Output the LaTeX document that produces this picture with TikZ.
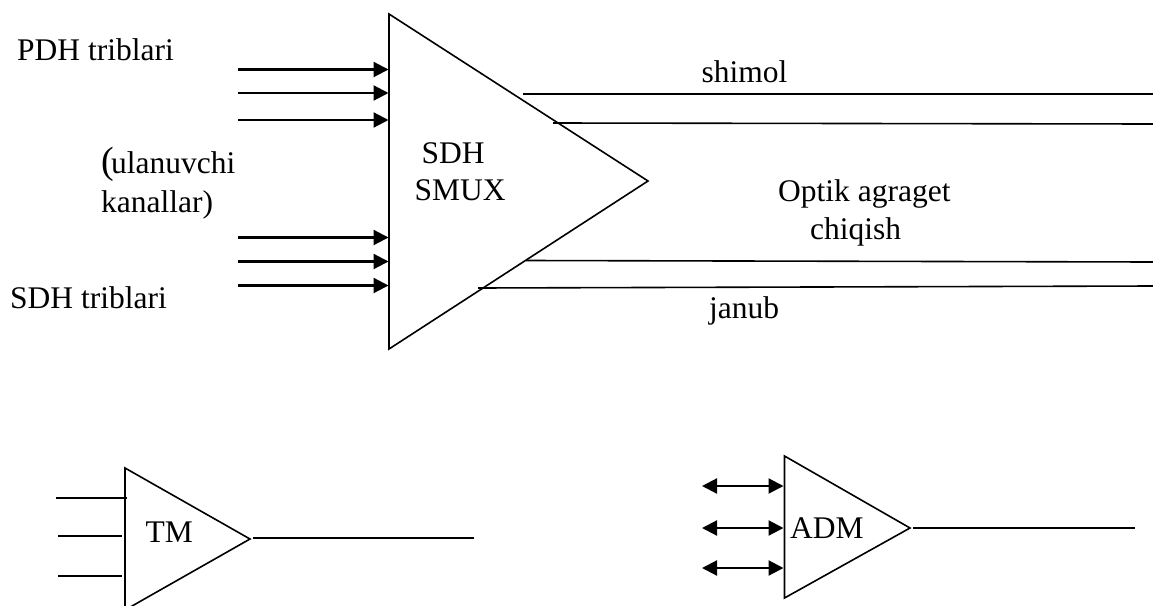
\documentclass[tikz,border=0pt]{standalone}
\usepackage{fontspec}
\setmainfont{Liberation Serif}
\usetikzlibrary{arrows.meta}
\begin{document}
\begin{tikzpicture}[x=1pt,y=-1pt,
 wire/.style={line width=1.6pt,black},
 arr/.style={line width=2.2pt,-{Triangle[length=15pt,width=15pt]}},
 darr/.style={line width=2.2pt,{Triangle[length=15pt,width=15pt]}-{Triangle[length=15pt,width=15pt]}},
 lbl/.style={font=\fontsize{31.5}{36}\selectfont,inner sep=0pt,anchor=base west,align=left}]
\useasboundingbox (0,0) rectangle (1153,605);
\clip (0,0) rectangle (1153,605);
\fill[white] (0,0) rectangle (1153,605);
\coordinate (a1) at (389,14); \coordinate (a2) at (389,349); \coordinate (a3) at (648,181);
\draw[wire] (a1)--(a3)--(a2)--cycle;
\foreach \n/\y in {p1/69.5,p2/93,p3/120,s1/237.5,s2/261.5,s3/285.5}{
 \coordinate (\n a) at (238,\y); \coordinate (\n b) at (388.5,\y);
 \draw[arr] (\n a)--(\n b);}
\coordinate (n1a) at (523,94); \coordinate (n1b) at (1153,94);
\coordinate (n2a) at (553,123); \coordinate (n2b) at (1153,124);
\coordinate (j1a) at (526,260.5); \coordinate (j1b) at (1153,262);
\coordinate (j2a) at (478,288); \coordinate (j2b) at (1153,286);
\draw[wire] (n1a)--(n1b); \draw[wire] (n2a)--(n2b); \draw[wire] (j1a)--(j1b); \draw[wire] (j2a)--(j2b);
\node[lbl] (t1) at (17,60) {PDH triblari};
\node[lbl] (t2) at (101,173) {\makebox[10pt][l]{\fontsize{38}{36}\selectfont(}ulanuvchi};
\node[lbl] (t3) at (101,212) {kanallar)};
\node[lbl] (t4) at (10,308) {SDH triblari};
\node[lbl] (t5) at (421.5,163) {SDH};
\node[lbl] (t6) at (414.5,200) {SMUX};
\node[lbl] (t7) at (701.5,82) {shimol};
\node[lbl] (t8) at (778,201) {Optik agraget};
\node[lbl] (t9) at (810,239) {chiqish};
\node[lbl] (t10) at (709,318) {janub};
% TM
\coordinate (b1) at (125,468); \coordinate (b2) at (125,610); \coordinate (b3) at (250,539);
\draw[wire] (b1)--(b3)--(b2)--cycle;
\foreach \n/\x/\xe/\y in {u1/56/127/498,u2/58/122/536,u3/58/122/576}{
 \coordinate (\n a) at (\x,\y); \coordinate (\n b) at (\xe,\y);
 \draw[wire] (\n a)--(\n b);}
\coordinate (tmo) at (253,538); \coordinate (tme) at (474,538);
\draw[wire] (tmo)--(tme);
\node[lbl] (t11) at (145.5,542.5) {TM};
% ADM
\coordinate (c1) at (784.5,456); \coordinate (c2) at (784.5,598); \coordinate (c3) at (910,528);
\draw[wire] (c1)--(c3)--(c2)--cycle;
\foreach \n/\y in {v1/486,v2/528,v3/568}{
 \coordinate (\n a) at (702,\y); \coordinate (\n b) at (783.5,\y);
 \draw[darr] (\n a)--(\n b);}
\coordinate (admo) at (913,528); \coordinate (adme) at (1135,528);
\draw[wire] (admo)--(adme);
\node[lbl] (t12) at (790,538) {ADM};
\end{tikzpicture}
\end{document}
